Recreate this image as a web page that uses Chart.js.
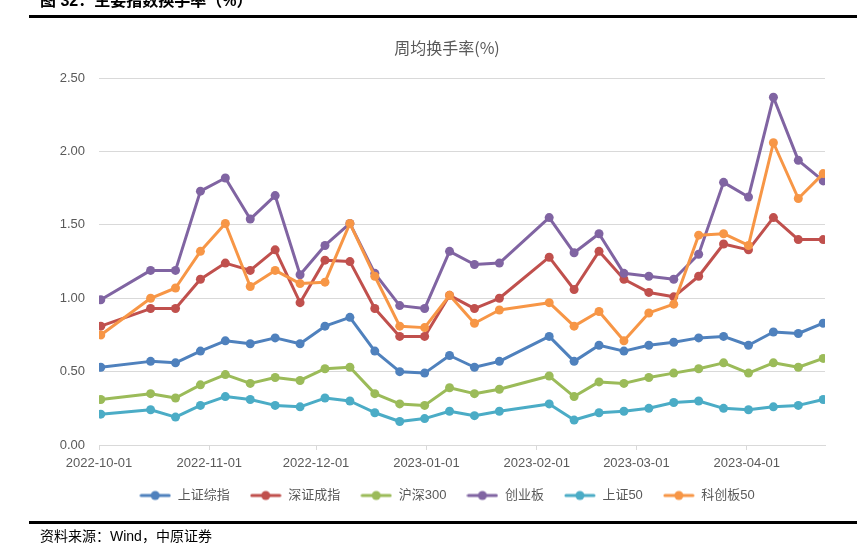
<!DOCTYPE html>
<html lang="zh-CN">
<head>
<meta charset="utf-8">
<title>主要指数换手率</title>
<script src="https://cdn.jsdelivr.net/npm/chart.js@4.4.1/dist/chart.umd.min.js"></script>
<style>
    html, body {
        margin: 0;
        padding: 0;
        background: #ffffff;
        width: 857px;
        height: 553px;
        overflow: hidden;
        position: relative;
    }
    #chartWrap {
        position: absolute;
        left: 0;
        top: 0;
        width: 857px;
        height: 553px;
    }
    .fig-title {
        position: absolute;
        left: 40px;
        top: -7px;
        font: bold 16px/15px "Liberation Sans", "Noto Sans CJK SC", sans-serif;
        color: #000000;
        white-space: nowrap;
    }
    .rule {
        position: absolute;
        left: 29px;
        right: 0;
        height: 3px;
        background: #000000;
    }
    .rule-top { top: 15px; }
    .rule-bottom { top: 521px; }
    .source {
        position: absolute;
        left: 40px;
        top: 529px;
        font: 14px/14px "Liberation Sans", "Noto Sans CJK SC", sans-serif;
        color: #000000;
        white-space: nowrap;
    }
</style>
</head>
<body>
<div id="chartWrap"><canvas id="turnoverChart"></canvas></div>
<div class="fig-title">图 32：主要指数换手率（%）</div>
<div class="rule rule-top"></div>
<div class="rule rule-bottom"></div>
<div class="source">资料来源：Wind，中原证券</div>

<script>
/**
 * 主要指数周均换手率 (%)
 */

// Week dates (holiday weeks 10-08 and 01-28 have no data)
const weekDates = [
    '2022-10-01', '2022-10-15', '2022-10-22', '2022-10-29',
    '2022-11-05', '2022-11-12', '2022-11-19', '2022-11-26',
    '2022-12-03', '2022-12-10', '2022-12-17', '2022-12-24', '2022-12-31',
    '2023-01-07', '2023-01-14', '2023-01-21',
    '2023-02-04', '2023-02-11', '2023-02-18', '2023-02-25',
    '2023-03-04', '2023-03-11', '2023-03-18', '2023-03-25',
    '2023-04-01', '2023-04-08', '2023-04-15', '2023-04-22'
];

// X axis tick labels (month starts)
const tickLabels = [
    '2022-10-01', '2022-11-01', '2022-12-01', '2023-01-01',
    '2023-02-01', '2023-03-01', '2023-04-01'
];

// Y axis ticks
const yTicks = [0, 0.5, 1.0, 1.5, 2.0, 2.5];

const seriesNames = ['上证综指', '深证成指', '沪深300', '创业板', '上证50', '科创板50'];
const seriesColors = ['#4F81BD', '#C0504D', '#9BBB59', '#8064A2', '#4BACC6', '#F79646'];

const shComposite = [0.53, 0.57, 0.56, 0.64, 0.71, 0.69, 0.73, 0.69, 0.81, 0.87, 0.64, 0.50, 0.49, 0.61, 0.53, 0.57, 0.74, 0.57, 0.68, 0.64, 0.68, 0.70, 0.73, 0.74, 0.68, 0.77, 0.76, 0.83];
const szComponent = [0.81, 0.93, 0.93, 1.13, 1.24, 1.19, 1.33, 0.97, 1.26, 1.25, 0.93, 0.74, 0.74, 1.02, 0.93, 1.00, 1.28, 1.06, 1.32, 1.13, 1.04, 1.01, 1.15, 1.37, 1.33, 1.55, 1.40, 1.40];
const hs300 = [0.31, 0.35, 0.32, 0.41, 0.48, 0.42, 0.46, 0.44, 0.52, 0.53, 0.35, 0.28, 0.27, 0.39, 0.35, 0.38, 0.47, 0.33, 0.43, 0.42, 0.46, 0.49, 0.52, 0.56, 0.49, 0.56, 0.53, 0.59];
const chinext = [0.99, 1.19, 1.19, 1.73, 1.82, 1.54, 1.70, 1.16, 1.36, 1.51, 1.17, 0.95, 0.93, 1.32, 1.23, 1.24, 1.55, 1.31, 1.44, 1.17, 1.15, 1.13, 1.30, 1.79, 1.69, 2.37, 1.94, 1.80];
const sse50 = [0.21, 0.24, 0.19, 0.27, 0.33, 0.31, 0.27, 0.26, 0.32, 0.30, 0.22, 0.16, 0.18, 0.23, 0.20, 0.23, 0.28, 0.17, 0.22, 0.23, 0.25, 0.29, 0.30, 0.25, 0.24, 0.26, 0.27, 0.31];
const star50 = [0.75, 1.00, 1.07, 1.32, 1.51, 1.08, 1.19, 1.10, 1.11, 1.51, 1.15, 0.81, 0.80, 1.02, 0.83, 0.92, 0.97, 0.81, 0.91, 0.71, 0.90, 0.96, 1.43, 1.44, 1.36, 2.06, 1.68, 1.85];

const seriesValues = [shComposite, szComponent, hs300, chinext, sse50, star50];

const DAY_MS = 86400000;
const axisStart = Date.parse(tickLabels[0]);

let turnoverChart = null;

/**
 * Days since the first axis date
 */
function dayOffset(dateStr) {
    return (Date.parse(dateStr) - axisStart) / DAY_MS;
}

/**
 * Legend marker: short line with a dot, like the Excel legend
 */
function makeLegendIcon(color) {
    const c = document.createElement('canvas');
    c.width = 32;
    c.height = 12;
    const ctx = c.getContext('2d');
    ctx.strokeStyle = color;
    ctx.lineWidth = 3;
    ctx.lineCap = 'round';
    ctx.beginPath();
    ctx.moveTo(2, 6);
    ctx.lineTo(30, 6);
    ctx.stroke();
    ctx.fillStyle = color;
    ctx.beginPath();
    ctx.arc(16, 6, 4.5, 0, Math.PI * 2);
    ctx.fill();
    return c;
}

/**
 * Build datasets; each date is a one-day slot, point sits in the middle
 */
function buildDatasets() {
    return seriesNames.map((name, i) => ({
        label: name,
        data: seriesValues[i].map((v, j) => ({ x: dayOffset(weekDates[j]) + 0.5, y: v })),
        borderColor: seriesColors[i],
        backgroundColor: seriesColors[i],
        pointBackgroundColor: seriesColors[i],
        pointBorderColor: seriesColors[i],
        borderWidth: 3,
        borderJoinStyle: 'round',
        borderCapStyle: 'round',
        pointRadius: 4.5,
        pointBorderWidth: 0,
        pointHoverRadius: 4.5,
        tension: 0,
        // later series drawn on top, as in Excel
        order: -i
    }));
}

function init() {
    const canvas = document.getElementById('turnoverChart');
    if (!canvas) return;

    Chart.defaults.font.family = "'Liberation Sans', 'Noto Sans CJK SC', sans-serif";
    Chart.defaults.color = '#595959';

    const monthTicks = tickLabels.map(dayOffset);
    const xMax = dayOffset(weekDates[weekDates.length - 1]) + 1;
    const legendIcons = seriesColors.map(makeLegendIcon);

    turnoverChart = new Chart(canvas, {
        type: 'line',
        data: { datasets: buildDatasets() },
        options: {
            responsive: true,
            maintainAspectRatio: false,
            animation: false,
            events: [],
            layout: {
                padding: { left: 58, right: 21, top: 30, bottom: 41 }
            },
            plugins: {
                title: {
                    display: true,
                    text: '周均换手率(%)',
                    color: '#595959',
                    font: { family: "'Noto Sans CJK SC', sans-serif", size: 16, weight: 'normal', lineHeight: 1.2 },
                    padding: { top: 8, bottom: 21 }
                },
                legend: {
                    position: 'bottom',
                    labels: {
                        usePointStyle: true,
                        pointStyleWidth: 32,
                        padding: 20,
                        color: '#595959',
                        font: { size: 13 },
                        generateLabels: () => seriesNames.map((name, i) => ({
                            text: name,
                            fillStyle: seriesColors[i],
                            strokeStyle: seriesColors[i],
                            lineWidth: 0,
                            pointStyle: legendIcons[i],
                            fontColor: '#595959',
                            hidden: false,
                            datasetIndex: i
                        }))
                    }
                },
                tooltip: { enabled: false }
            },
            scales: {
                x: {
                    type: 'linear',
                    min: 0,
                    max: xMax,
                    afterBuildTicks: (axis) => {
                        axis.ticks = monthTicks.map(v => ({ value: v }));
                    },
                    afterFit: (axis) => {
                        axis.height = 24;
                    },
                    ticks: {
                        autoSkip: false,
                        maxRotation: 0,
                        padding: 6,
                        color: '#595959',
                        font: { size: 13 },
                        callback: (value, index) => tickLabels[index]
                    },
                    grid: {
                        drawOnChartArea: false,
                        drawTicks: true,
                        tickLength: 5,
                        tickColor: '#d9d9d9'
                    },
                    border: { display: true, color: '#d9d9d9', width: 1 }
                },
                y: {
                    min: yTicks[0],
                    max: yTicks[yTicks.length - 1],
                    afterBuildTicks: (axis) => {
                        axis.ticks = yTicks.map(v => ({ value: v }));
                    },
                    afterFit: (axis) => {
                        axis.width = 41;
                    },
                    ticks: {
                        padding: 14,
                        color: '#595959',
                        font: { size: 13 },
                        callback: (value) => Number(value).toFixed(2)
                    },
                    grid: {
                        color: '#d9d9d9',
                        lineWidth: 1,
                        drawTicks: false
                    },
                    border: { display: false }
                },
                // empty right-hand spacer so the plot ends where the Excel one does
                ySpacer: {
                    position: 'right',
                    afterFit: (axis) => {
                        axis.width = 11;
                    },
                    ticks: { display: false },
                    grid: { display: false },
                    border: { display: false }
                }
            }
        }
    });
}

document.addEventListener('DOMContentLoaded', init);
</script>
</body>
</html>
